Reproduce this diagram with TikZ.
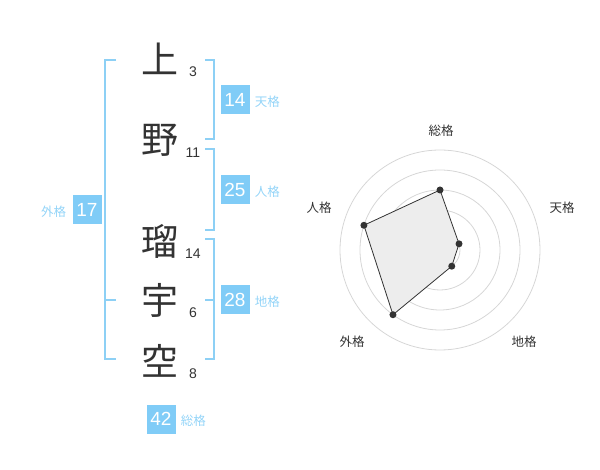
\documentclass[tikz,border=0pt]{standalone}
\usepackage{fontspec}
\setmainfont{Liberation Sans}
\newfontfamily\jpfont{Noto Sans CJK JP}
\definecolor{kakublue}{HTML}{80CCF7}
\definecolor{bracketblue}{HTML}{8DD0F5}
\definecolor{inkgray}{HTML}{333333}
\tikzset{%
  kanji/.style     = {font=\jpfont\fontsize{37}{37}\selectfont, text=inkgray, inner sep=0pt},%
  strokes/.style   = {font=\fontsize{14}{14}\selectfont, text=inkgray, inner sep=0pt},%
  kakubox/.style   = {fill=kakublue, text=white, minimum size=29pt, inner sep=0pt,%
                      font=\fontsize{19}{19}\selectfont},%
  kakulabel/.style = {font=\jpfont\fontsize{12.5}{12.5}\selectfont, text=kakublue!85!white, inner sep=0pt},%
  bracket/.style   = {draw=bracketblue, line width=2pt},%
  ring/.style      = {draw=black!16, line width=0.8pt},%
  radarline/.style = {draw=inkgray, line width=0.8pt, fill=black!7},%
  axislabel/.style = {font=\jpfont\fontsize{12.5}{12.5}\selectfont, text=inkgray, inner sep=0pt},%
  dot/.style       = {circle, fill=inkgray, inner sep=0pt, minimum size=7pt}%
}
\begin{document}
\begin{tikzpicture}[x=1pt,y=-1pt]
		\useasboundingbox (0,0) rectangle (600,470);
		% name and stroke counts
		\foreach \ch/\y/\n [count=\i] in {上/59/3, 野/140/11, 瑠/241/14, 宇/300/6, 空/361/8}{
			\node[kanji] (c\i) at (160,\y) {\ch};
			\node[strokes] (s\i) at (193,\y+13) {\n};
		}
		% brackets
		\draw[bracket] (116,60) -- (105,60) -- (105,359) -- (116,359) (105,300) -- (116,300);
		\draw[bracket] (205,60) -- (214,60) -- (214,139) -- (205,139);
		\draw[bracket] (205,149) -- (214,149) -- (214,230) -- (205,230);
		\draw[bracket] (205,239) -- (214,239) -- (214,359) -- (205,359) (214,300) -- (205,300);
		% kaku values
		\node[kakubox] (b1) at (235,100) {14};
		\node[kakulabel, anchor=base west] (l1) at ([xshift=5pt]b1.base east) {天格};
		\node[kakubox] (b2) at (235,190) {25};
		\node[kakulabel, anchor=base west] (l2) at ([xshift=5pt]b2.base east) {人格};
		\node[kakubox] (b3) at (235,300) {28};
		\node[kakulabel, anchor=base west] (l3) at ([xshift=5pt]b3.base east) {地格};
		\node[kakubox] (b4) at (87,210) {17};
		\node[kakulabel, anchor=base east] (l4) at ([xshift=-6pt]b4.base west) {外格};
		\node[kakubox] (b5) at (161,419) {42};
		\node[kakulabel, anchor=base west] (l5) at ([xshift=5pt]b5.base east) {総格};
		% radar chart
		\begin{scope}[shift={(440,250)}]
			\foreach \r in {20,40,...,100}
				\draw[ring] (0,0) circle (\r pt);
			\fill[black!20] (0,0) circle (3pt);
			\foreach \a/\v [count=\i] in {90/60, 18/20, -54/20, -126/80, 162/80}
				\coordinate (p\i) at (\a:\v pt);
			\draw[radarline] (p1) -- (p2) -- (p3) -- (p4) -- (p5) -- cycle;
			\foreach \i in {1,...,5}
				\node[dot] (d\i) at (p\i) {};
		\end{scope}
		\node[axislabel] (a1) at (441,131) {総格};
		\node[axislabel] (a2) at (562,208) {天格};
		\node[axislabel] (a3) at (524,342) {地格};
		\node[axislabel] (a4) at (352,342) {外格};
		\node[axislabel] (a5) at (319,208) {人格};
	\end{tikzpicture}
\end{document}
